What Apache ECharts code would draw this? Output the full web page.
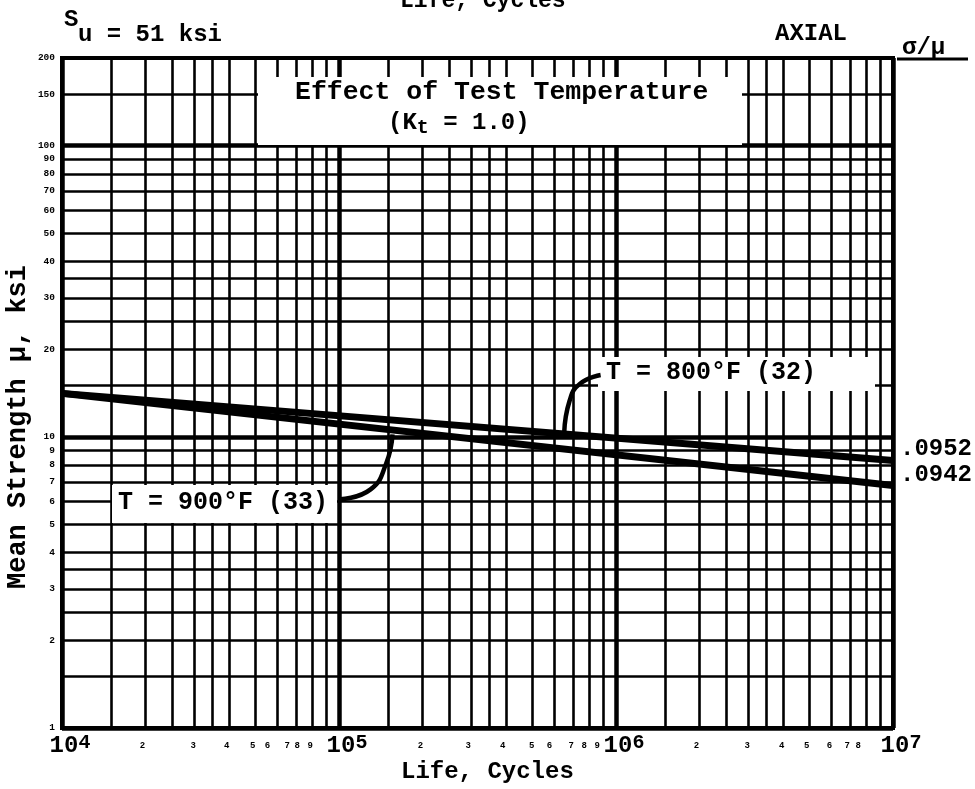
<!DOCTYPE html>
<html><head><meta charset="utf-8">
<script src="https://cdn.jsdelivr.net/npm/echarts@6/dist/echarts.min.js"></script>
<style>html,body{margin:0;padding:0;background:#fff}#c{width:975px;height:789px}</style>
</head><body><div id="c"></div>
<script>
// ---- data ----
const life800 = [1e4, 1e7];
const strength800 = [14.1, 8.3];
const life900 = [1e4, 1e7];
const strength900 = [14.1, 6.8];
const leader800Life = [6.5e5, 6.8e5, 7.4e5, 8.8e5];
const leader800Strength = [10.3, 13.3, 15.2, 16.3];
const leader900Life = [1.56e5, 1.48e5, 1.3e5, 1.01e5];
const leader900Strength = [10.2, 8.1, 6.6, 6.1];
const gridMantissas = [1, 1.5, 2, 2.5, 3, 3.5, 4, 5, 6, 7, 8, 9];
const xDecades = [1e4, 1e5, 1e6];
const xEnd = 1e7;
const xExponents = [4, 5, 6, 7];
const xMinorDigits = [2, 3, 4, 5, 6, 7, 8, 9];
const yDecades = [1, 10];
const yTopGrid = [100, 150, 200];
const yLabelValues = [1, 2, 3, 4, 5, 6, 7, 8, 9, 10, 20, 30, 40, 50, 60, 70, 80, 90, 100, 150, 200];
const yMin = 1, yMax = 200;

// ---- style: small horizontal nudges of the typed minor labels (px, per decade, digits 2..9) ----
const minorNudge = [
  [-3, -1, -2, -3, -10, -9, -15, -16],
  [-2, -3, -3, -1, -5, -2, -5, -6],
  [-3, -1, -1, -3, -2, -3, -8, -13]
];

// ---- derived ----
const L = Math.log10;
const xGridVals = xDecades.flatMap(d => gridMantissas.map(m => L(m * d))).concat([L(xEnd)]);
const yGridVals = yDecades.flatMap(d => gridMantissas.map(m => L(m * d))).concat(yTopGrid.map(L));
const FONT = '"Liberation Mono", "DejaVu Sans Mono", monospace';
const xRich = {
  m: { fontFamily: FONT, fontWeight: 'bold', fontSize: 24, color: '#000', lineHeight: 26, padding: [0, 0, 0, 16] },
  e: { fontFamily: FONT, fontWeight: 'bold', fontSize: 20, color: '#000', verticalAlign: 'top', lineHeight: 10 }
};
const xLabelEntries = [];
xExponents.forEach((e, i) => {
  xLabelEntries.push({ v: e, t: '{m|10}{e|' + e + '}' });
  if (i < xExponents.length - 1) xMinorDigits.forEach((d, j) => {
    const key = 'n' + i + '_' + j;
    const s = minorNudge[i][j];
    xRich[key] = { fontFamily: FONT, fontWeight: 'bold', fontSize: 9, color: '#000', lineHeight: 26, padding: [0, s < 0 ? -2 * s : 0, 0, s > 0 ? 2 * s : 0] };
    xLabelEntries.push({ v: L(d * Math.pow(10, e)), t: '{' + key + '|' + d + '}' });
  });
});
const yLabelEntries = yLabelValues.map(v => ({ v: L(v), t: String(v) }));
function lookup(entries, v) {
  let best = entries[0];
  entries.forEach(en => { if (Math.abs(en.v - v) < Math.abs(best.v - v)) best = en; });
  return best.t;
}
const toPts = (xs, ys) => xs.map((x, i) => [L(x), L(ys[i])]);

const chart = echarts.init(document.getElementById('c'), null, { renderer: 'canvas' });
const thin = { show: true, lineStyle: { color: '#000', width: 2.6 } };
const thick = { show: true, lineStyle: { color: '#000', width: 4.5 } };

chart.setOption({
  animation: false,
  backgroundColor: '#fff',
  grid: { left: 62, right: 82, top: 58, bottom: 61, show: true, borderColor: '#000', borderWidth: 4, outerBoundsMode: 'none' },
  xAxis: [
    {
      type: 'value', min: L(xDecades[0]), max: L(xEnd),
      axisLine: { show: false }, axisTick: { show: false, customValues: xGridVals },
      splitLine: thin,
      axisLabel: {
        show: true, customValues: xLabelEntries.map(e => e.v), margin: 5,
        showMinLabel: true, showMaxLabel: true, hideOverlap: false,
        formatter: v => lookup(xLabelEntries, v),
        rich: xRich
      }
    },
    {
      type: 'value', min: L(xDecades[0]), max: L(xEnd),
      axisLine: { show: false }, axisLabel: { show: false },
      axisTick: { show: false, customValues: xExponents },
      splitLine: thick
    }
  ],
  yAxis: [
    {
      type: 'value', min: L(yMin), max: L(yMax),
      axisLine: { show: false }, axisTick: { show: false, customValues: yGridVals },
      splitLine: thin,
      axisLabel: {
        show: true, customValues: yLabelEntries.map(e => e.v), margin: 7,
        showMinLabel: true, showMaxLabel: true, hideOverlap: false,
        formatter: v => lookup(yLabelEntries, v),
        fontFamily: FONT, fontWeight: 'bold', fontSize: 9.5, color: '#000'
      }
    },
    {
      type: 'value', min: L(yMin), max: L(yMax),
      axisLine: { show: false }, axisLabel: { show: false },
      axisTick: { show: false, customValues: yDecades.map(L).concat([L(yTopGrid[0])]) },
      splitLine: thick
    }
  ],
  series: [
    { type: 'line', name: 'T = 800°F (32)', data: toPts(life800, strength800), showSymbol: false, symbol: 'none', lineStyle: { color: '#000', width: 7 }, z: 3 },
    { type: 'line', name: 'T = 900°F (33)', data: toPts(life900, strength900), showSymbol: false, symbol: 'none', lineStyle: { color: '#000', width: 7 }, z: 3 },
    { type: 'line', name: 'leader800', data: toPts(leader800Life, leader800Strength), smooth: 0.5, showSymbol: false, symbol: 'none', lineStyle: { color: '#000', width: 4.5 }, z: 20 },
    { type: 'line', name: 'leader900', data: toPts(leader900Life, leader900Strength), smooth: 0.5, showSymbol: false, symbol: 'none', lineStyle: { color: '#000', width: 4.5 }, z: 20 }
  ],
  graphic: [
    { type: 'rect', z: 10, shape: { x: 258, y: 77, width: 484, height: 68 }, style: { fill: '#fff' } },
    { type: 'text', z: 11, left: 295, top: 79, style: { text: 'Effect of Test Temperature', font: 'bold 26.5px ' + FONT, fill: '#000' } },
    { type: 'text', z: 11, left: 388, top: 110, style: { text: '{a|(K}{s|t}{a| = 1.0)}', rich: { a: { font: 'bold 24px ' + FONT, fill: '#000', lineHeight: 30 }, s: { font: 'bold 20px ' + FONT, fill: '#000', verticalAlign: 'bottom', lineHeight: 30, padding: [8, 0, 0, 0] } } } },
    { type: 'rect', z: 10, shape: { x: 112, y: 485, width: 225, height: 38 }, style: { fill: '#fff' } },
    { type: 'text', z: 11, left: 118, top: 490, style: { text: 'T = 900°F (33)', font: 'bold 25px ' + FONT, fill: '#000' } },
    { type: 'rect', z: 10, shape: { x: 598, y: 357, width: 277, height: 34 }, style: { fill: '#fff' } },
    { type: 'text', z: 11, left: 606, top: 360, style: { text: 'T = 800°F (32)', font: 'bold 25px ' + FONT, fill: '#000' } },
    { type: 'text', left: 64, top: 8, style: { text: 'S', font: 'bold 24px ' + FONT, fill: '#000' } },
    { type: 'text', left: 78, top: 23, style: { text: 'u = 51 ksi', font: 'bold 24px ' + FONT, fill: '#000' } },
    { type: 'text', left: 775, top: 22, style: { text: 'AXIAL', font: 'bold 24px ' + FONT, fill: '#000' } },
    { type: 'text', left: 902, top: 36, style: { text: 'σ/μ', font: 'bold 24px ' + FONT, fill: '#000' } },
    { type: 'line', shape: { x1: 897, y1: 59, x2: 968, y2: 59 }, style: { stroke: '#000', lineWidth: 3 } },
    { type: 'text', left: 900, top: 437, style: { text: '.0952', font: 'bold 24px ' + FONT, fill: '#000' } },
    { type: 'text', left: 900, top: 463, style: { text: '.0942', font: 'bold 24px ' + FONT, fill: '#000' } },
    { type: 'text', left: 401, top: 760, style: { text: 'Life, Cycles', font: 'bold 24px ' + FONT, fill: '#000' } },
    { type: 'text', left: 400, top: -10, style: { text: 'Life, Cycles', font: 'bold 23px ' + FONT, fill: '#000' } },
    { type: 'text', x: 18, y: 427, rotation: Math.PI / 2, style: { text: 'Mean Strength μ, ksi', font: 'bold 27px ' + FONT, fill: '#000', align: 'center', verticalAlign: 'middle' } }
  ]
});
</script></body></html>
